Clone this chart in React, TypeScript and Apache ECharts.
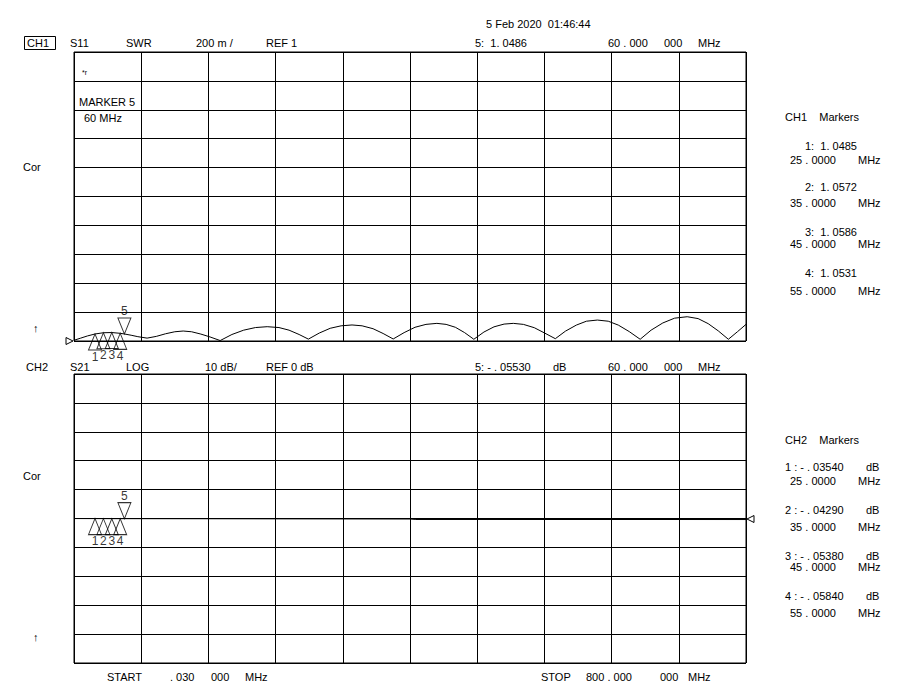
import React, { useEffect, useRef } from "react";
import * as echarts from "echarts";

// ---- Data ----
// CH1: S11 SWR trace (MHz, SWR)
const swrFreq = [0.03, 8, 16, 25, 35, 45, 55, 60, 68, 76, 87, 98, 109, 120, 130, 140, 151, 162, 174, 188, 202, 216, 230, 244, 256, 268, 279, 292, 305, 318, 331, 343, 356, 368, 380, 393, 406, 419, 432, 443, 454, 465, 476, 488, 500, 512, 523, 535, 548, 560, 573, 585, 598, 610, 623, 636, 648, 661, 674, 687, 701, 715, 730, 743, 755, 767, 779, 790, 800];
const swrVals = [1.005, 1.02, 1.035, 1.0485, 1.0572, 1.0586, 1.0531, 1.0486, 1.04, 1.03, 1.02, 1.032, 1.05, 1.064, 1.069, 1.064, 1.048, 1.028, 1.003, 1.045, 1.075, 1.093, 1.099, 1.093, 1.075, 1.045, 1.013, 1.055, 1.088, 1.105, 1.111, 1.105, 1.085, 1.052, 1.014, 1.058, 1.095, 1.115, 1.122, 1.115, 1.095, 1.058, 1.012, 1.062, 1.098, 1.117, 1.122, 1.115, 1.092, 1.056, 1.016, 1.068, 1.11, 1.137, 1.145, 1.137, 1.11, 1.065, 1.012, 1.075, 1.125, 1.158, 1.168, 1.155, 1.12, 1.07, 1.012, 1.065, 1.115];
// CH2: S21 LOG trace (MHz, dB)
const s21Freq = [0.03, 25, 35, 45, 55, 60, 150, 250, 350, 400, 407, 500, 600, 700, 800];
const s21Vals = [-0.02, -0.0354, -0.0429, -0.0538, -0.0584, -0.0553, -0.08, -0.12, -0.16, -0.18, -0.34, -0.34, -0.35, -0.35, -0.36];
// Markers
const markerNames = ["1", "2", "3", "4"];
const markerFreq = [25, 35, 45, 55];
const markerSwr = [1.0485, 1.0572, 1.0586, 1.0531];
const markerS21 = [-0.0354, -0.0429, -0.0538, -0.0584];
const marker5Freq = 60;
const marker5Swr = 1.0486;
const marker5S21 = -0.0553;
// Axes
const freqStart = 0;
const freqStop = 800;
const freqDiv = 80;
const swrMin = 1;
const swrMax = 3;
const swrDiv = 0.2;
const dbMin = -50;
const dbMax = 50;
const dbDiv = 10;

const FONT = "'Liberation Sans', Arial, sans-serif";

function txt(x: number, y: number, s: string, size = 11, align = "left") {
  return {
    type: "text",
    x,
    y,
    silent: true,
    style: {
      text: s,
      fill: "#000",
      font: `${size}px ${FONT}`,
      textAlign: align,
      textVerticalAlign: "middle",
    },
  };
}

const UP_TRI = "path://M0,0 L6.5,16 L-6.5,16 Z";
const DOWN_TRI = "path://M-6.5,0 L6.5,0 L0,16 Z";

export default function App() {
  const ref = useRef<HTMLDivElement>(null);
  useEffect(() => {
    if (!ref.current) return;
    const chart = echarts.init(ref.current, undefined, { renderer: "svg" });

    const axisCommon = {
      axisLabel: { show: false },
      axisTick: { show: false },
      axisLine: { show: false },
      splitLine: { show: true, lineStyle: { color: "#000", width: 1 } },
    };

    const markerSeries = (gi: number, ys: number[], y5: number) => [
      {
        type: "scatter",
        xAxisIndex: gi,
        yAxisIndex: gi,
        symbol: UP_TRI,
        symbolSize: [13, 16],
        symbolOffset: [0, 8],
        itemStyle: { color: "rgba(0,0,0,0)", borderColor: "#000", borderWidth: 1 },
        label: {
          show: true,
          position: "bottom",
          distance: 0,
          formatter: (p: any) => p.name,
          color: "#000",
          fontFamily: FONT,
          fontSize: 12,
        },
        data: markerFreq.map((f, i) => ({ name: markerNames[i], value: [f, ys[i]] })),
        z: 5,
      },
      {
        type: "scatter",
        xAxisIndex: gi,
        yAxisIndex: gi,
        symbol: DOWN_TRI,
        symbolSize: [13, 16],
        symbolOffset: [0, -8],
        itemStyle: { color: "rgba(0,0,0,0)", borderColor: "#000", borderWidth: 1 },
        label: {
          show: true,
          position: "top",
          distance: 0,
          formatter: "5",
          color: "#000",
          fontFamily: FONT,
          fontSize: 12,
        },
        data: [{ name: "5", value: [marker5Freq, y5] }],
        z: 5,
      },
    ];

    const graphics: any[] = [
      // Header
      txt(486, 24, "5 Feb 2020  01:46:44"),
      { type: "rect", shape: { x: 24.5, y: 36.5, width: 31, height: 13 }, style: { fill: "none", stroke: "#000", lineWidth: 1 }, silent: true },
      txt(27, 43, "CH1"),
      txt(70, 43, "S11"),
      txt(126, 43, "SWR"),
      txt(196, 43, "200 m /"),
      txt(266, 43, "REF 1"),
      txt(475, 43, "5:  1. 0486"),
      txt(608, 43, "60 . 000"),
      txt(664, 43, "000"),
      txt(698, 43, "MHz"),
      // CH1 annotations
      txt(82, 72, "*r", 7),
      txt(79, 102, "MARKER 5"),
      txt(84, 118, "60 MHz"),
      txt(23, 167, "Cor"),
      txt(33, 328, "↑", 11),
      // CH2 header
      txt(26, 367, "CH2"),
      txt(70, 367, "S21"),
      txt(126, 367, "LOG"),
      txt(205, 367, "10 dB/"),
      txt(266, 367, "REF 0 dB"),
      txt(475, 367, "5: - . 05530"),
      txt(553, 367, "dB"),
      txt(608, 367, "60 . 000"),
      txt(664, 367, "000"),
      txt(698, 367, "MHz"),
      txt(23, 476, "Cor"),
      txt(33, 637, "↑", 11),
      // Footer
      txt(107, 677, "START"),
      txt(170, 677, ". 030"),
      txt(211, 677, "000"),
      txt(245, 677, "MHz"),
      txt(541, 677, "STOP"),
      txt(586, 677, "800 . 000"),
      txt(660, 677, "000"),
      txt(688, 677, "MHz"),
      // CH1 markers panel
      txt(785, 117, "CH1    Markers"),
      txt(805, 146, "1:  1. 0485"),
      txt(790, 160, "25 . 0000"),
      txt(858, 160, "MHz"),
      txt(805, 187, "2:  1. 0572"),
      txt(790, 203, "35 . 0000"),
      txt(858, 203, "MHz"),
      txt(805, 232, "3:  1. 0586"),
      txt(790, 244, "45 . 0000"),
      txt(858, 244, "MHz"),
      txt(805, 273, "4:  1. 0531"),
      txt(790, 291, "55 . 0000"),
      txt(858, 291, "MHz"),
      // CH2 markers panel
      txt(785, 440, "CH2    Markers"),
      txt(785, 467, "1 : - . 03540"),
      txt(866, 467, "dB"),
      txt(790, 481, "25 . 0000"),
      txt(858, 481, "MHz"),
      txt(785, 510, "2 : - . 04290"),
      txt(866, 510, "dB"),
      txt(790, 527, "35 . 0000"),
      txt(858, 527, "MHz"),
      txt(785, 556, "3 : - . 05380"),
      txt(866, 556, "dB"),
      txt(790, 567, "45 . 0000"),
      txt(858, 567, "MHz"),
      txt(785, 596, "4 : - . 05840"),
      txt(866, 596, "dB"),
      txt(790, 613, "55 . 0000"),
      txt(858, 613, "MHz"),
      // Reference position indicators
      { type: "polygon", shape: { points: [[66, 337.5], [66, 344.5], [73, 341]] }, style: { fill: "none", stroke: "#000", lineWidth: 1 }, silent: true },
      { type: "polygon", shape: { points: [[754, 515.5], [754, 522.5], [747, 519]] }, style: { fill: "none", stroke: "#000", lineWidth: 1 }, silent: true },
    ];

    chart.setOption({
      animation: false,
      backgroundColor: "#fff",
      grid: [
        { left: 74, top: 52, width: 672, height: 289, show: true, borderColor: "#000", borderWidth: 1, backgroundColor: "transparent" },
        { left: 74, top: 374, width: 672, height: 289, show: true, borderColor: "#000", borderWidth: 1, backgroundColor: "transparent" },
      ],
      xAxis: [
        { type: "value", gridIndex: 0, min: freqStart, max: freqStop, interval: freqDiv, ...axisCommon },
        { type: "value", gridIndex: 1, min: freqStart, max: freqStop, interval: freqDiv, ...axisCommon },
      ],
      yAxis: [
        { type: "value", gridIndex: 0, min: swrMin, max: swrMax, interval: swrDiv, ...axisCommon },
        { type: "value", gridIndex: 1, min: dbMin, max: dbMax, interval: dbDiv, ...axisCommon },
      ],
      series: [
        {
          type: "line",
          xAxisIndex: 0,
          yAxisIndex: 0,
          showSymbol: false,
          symbol: "none",
          lineStyle: { color: "#000", width: 1 },
          data: swrFreq.map((f, i) => [f, swrVals[i]]),
          z: 4,
        },
        {
          type: "line",
          xAxisIndex: 1,
          yAxisIndex: 1,
          showSymbol: false,
          symbol: "none",
          lineStyle: { color: "#000", width: 1 },
          data: s21Freq.map((f, i) => [f, s21Vals[i]]),
          z: 4,
        },
        ...markerSeries(0, markerSwr, marker5Swr),
        ...markerSeries(1, markerS21, marker5S21),
      ],
      graphic: graphics,
    });

    return () => chart.dispose();
  }, []);

  return (
    <div
      ref={ref}
      style={{ position: "absolute", left: 0, top: 0, width: 901, height: 696, background: "#fff" }}
    />
  );
}
